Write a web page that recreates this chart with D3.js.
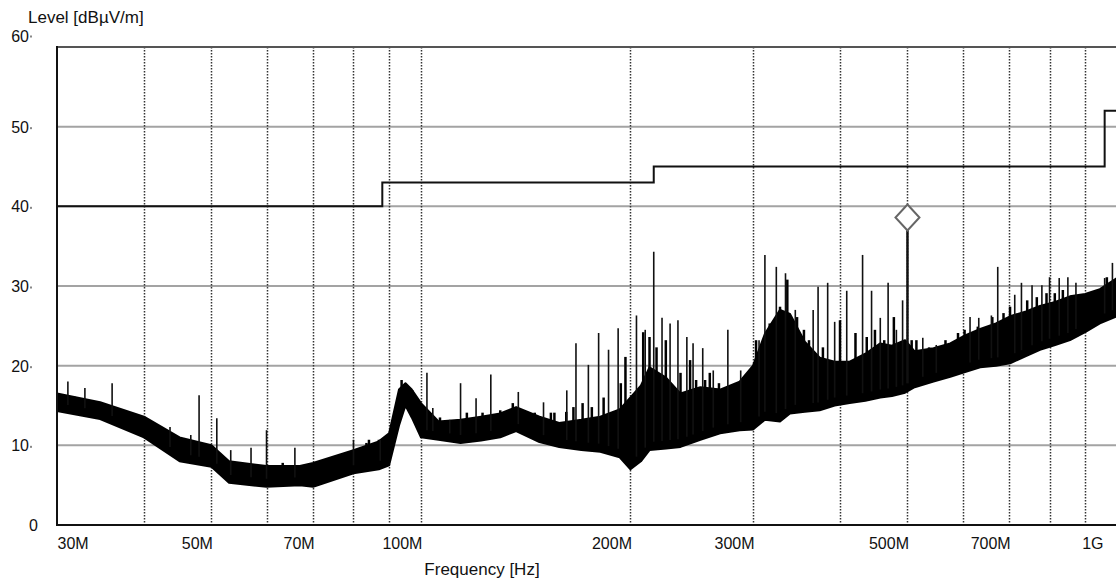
<!DOCTYPE html>
<html>
<head>
<meta charset="utf-8">
<script src="https://cdn.jsdelivr.net/npm/d3@7"></script>
<style>
  body { margin: 0; background: #fff; }
  svg text { font-family: "Liberation Sans", Arial, sans-serif; fill: #111; }
</style>
</head>
<body>
<div id="chart"></div>
<script>
// frequencies in MHz, levels in dBuV/m
const freqTicks = [30, 50, 70, 100, 200, 300, 500, 700, 1000];
const freqTickLabels = ["30M", "50M", "70M", "100M", "200M", "300M", "500M", "700M", "1G"];
const gridFreqs = [40, 50, 60, 70, 80, 90, 100, 200, 300, 400, 500, 600, 700, 800, 900];
const levelTicks = [0, 10, 20, 30, 40, 50, 60];

// noise floor band of the scan (upper / lower edge)
const bandFreq = [30, 34.6, 40, 45, 50, 53, 60, 67, 70, 80, 87, 90, 93, 95, 97, 100, 106, 114, 122, 130,
  137, 148, 158, 170, 181, 193, 200, 207, 213, 225, 236, 252, 269, 287, 300, 312, 328, 339, 356, 374,
  393, 413, 435, 457, 475, 496, 512, 545, 576, 605, 636, 670, 702, 740, 775, 815, 856, 900, 945, 1000];
const bandHigh = [16.5, 15.4, 13.6, 11.0, 10.0, 8.0, 7.4, 7.4, 7.8, 9.4, 10.5, 11.5, 17.0, 17.8, 17.0, 15.3, 13.0, 13.2, 13.6, 14.0,
  14.8, 13.6, 12.8, 13.2, 13.6, 14.5, 16.0, 17.5, 19.8, 18.5, 16.5, 17.3, 17.0, 18.0, 20.0, 24.0, 27.0, 26.5, 23.0, 21.0,
  20.5, 20.5, 21.5, 22.8, 22.5, 23.2, 21.8, 22.2, 22.8, 23.8, 24.6, 25.3, 26.2, 26.8, 27.5, 28.0, 28.7, 29.0, 29.6, 31.0];
const bandLow = [14.3, 13.3, 11.0, 8.0, 7.3, 5.3, 4.8, 5.0, 4.8, 6.5, 7.0, 7.5, 12.5, 15.0, 13.5, 11.0, 10.7, 10.3, 10.6, 11.0,
  11.8, 10.4, 9.8, 9.4, 9.2, 8.5, 7.0, 8.0, 9.4, 9.6, 9.8, 10.7, 11.5, 11.9, 12.0, 13.2, 13.0, 14.0, 14.2, 14.4,
  15.0, 15.3, 15.6, 16.0, 16.2, 16.6, 17.3, 18.0, 18.6, 19.2, 19.8, 20.0, 20.3, 21.2, 22.0, 22.6, 23.2, 24.2, 25.3, 26.2];

// narrow-band spikes
const spikeFreq = [31.1, 32.9, 36.0, 43.6, 46.7, 48.0, 50.9, 53.3, 57.0, 60, 65.9, 80, 87.4, 102, 104, 110, 114, 120, 126, 138,
  150, 162, 167, 174, 180, 186, 192, 204, 210, 216, 222, 228, 234, 241, 246, 254, 263, 276, 288, 306,
  312, 324, 334, 345, 366, 372, 384, 393, 409, 431, 444, 457, 469, 482, 492, 500, 526, 550, 615, 633,
  660, 674, 713, 729, 755, 780, 800, 826, 850, 873, 960, 985];
const spikeLevel = [18.0, 17.2, 17.8, 12.3, 11.3, 16.3, 13.4, 9.4, 9.7, 11.9, 9.7, 10.7, 10.7, 19.1, 14.7, 13.2, 17.8, 15.9, 18.9, 16.7,
  15.4, 16.9, 22.8, 20.1, 24.1, 22.0, 24.7, 26.3, 24.5, 34.3, 26.0, 25.3, 25.7, 23.6, 22.8, 22.2, 19.4, 24.5, 19.4, 23.2,
  33.9, 32.4, 31.6, 27.0, 27.0, 29.9, 30.4, 25.5, 29.4, 33.9, 29.4, 26.0, 30.4, 24.5, 28.2, 37.0, 23.5, 22.6, 26.1, 26.0,
  26.3, 32.4, 28.9, 30.4, 30.1, 30.1, 31.1, 31.0, 31.1, 30.4, 31.0, 32.9];

// smaller noise peaks sticking out of the band
const noiseFreq = [30.5, 31.8, 33.6, 34.5, 37.1, 38.4, 41.0, 42.4, 45.3, 49.2, 54.8, 57.7, 63.3, 68.3, 71.6, 74.6, 77.1, 83.5,
  84.2, 87, 93.8, 95.3, 97.2, 106.5, 116.4, 122.6, 130, 135.5, 145.7, 153.7, 155.5, 161.7, 165.6, 170.7, 176, 183,
  193.7, 196.7, 208.6, 213, 218, 224.8, 236, 243.6, 248.5, 256, 260, 268, 279, 294, 303, 317, 328, 336, 347,
  339, 355, 361, 378, 400, 421, 437, 449, 463, 478, 507, 515, 537, 567, 591, 604, 631, 662, 687, 702, 743,
  767, 792, 814, 836, 883, 913, 933, 967, 990];
const noiseLevel = [16.3, 16.1, 15.4, 15.3, 13.8, 13.2, 11.5, 10.9, 9.4, 9.7, 7.9, 7.3, 7.8, 7.3, 7.8, 8.2, 9.0, 10.3,
  10.7, 10.7, 18.2, 17.6, 16.9, 13.5, 14.1, 14.1, 14.4, 15.3, 14.1, 14.1, 14.1, 14.2, 14.8, 15.3, 14.8, 16.0,
  17.8, 21.1, 24.2, 23.6, 22.3, 23.2, 19.1, 20.7, 18.2, 18.2, 19.1, 17.8, 17.3, 18.2, 23.2, 25.3, 27.4, 30.8, 26.1,
  26.1, 24.5, 23.2, 22.3, 25.7, 24.1, 23.6, 24.5, 23.2, 26.1, 23.2, 23.2, 22.3, 23.2, 24.1, 24.5, 24.9, 26.1, 26.6, 27.4, 28.2,
  28.6, 29.1, 29.1, 29.5, 28.6, 29.1, 29.1, 31.1, 30.4];

// limit line (step after each frequency)
const limitFreq = [30, 88, 216, 960, 1000];
const limitLevel = [40, 43, 45, 52, 52];

// final measurement marker
const markerFreq = [500];
const markerLevel = [38.6];

const W = 1116, H = 581;
const svg = d3.select('#chart').append('svg').attr('width', W).attr('height', H);

const x = d3.scaleLog().domain([30, 1000]).range([57, 1117]);
const y = d3.scaleLinear().domain([0, 60]).range([525, 47]);

// horizontal grid
svg.append('g').selectAll('line')
  .data(levelTicks.filter(d => d > 0 && d < 60))
  .enter().append('line')
  .attr('x1', 57).attr('x2', W)
  .attr('y1', d => y(d)).attr('y2', d => y(d))
  .attr('stroke', '#a3a3a3').attr('stroke-width', 2);

// vertical dotted grid
svg.append('g').selectAll('line')
  .data(gridFreqs)
  .enter().append('line')
  .attr('x1', d => Math.round(x(d)) + 0.5).attr('x2', d => Math.round(x(d)) + 0.5)
  .attr('y1', y(60)).attr('y2', y(0))
  .attr('stroke', '#333').attr('stroke-width', 1.5)
  .attr('stroke-dasharray', '1.5,1.5');

// top frame line
svg.append('line')
  .attr('x1', 57).attr('x2', W).attr('y1', y(60)).attr('y2', y(60))
  .attr('stroke', '#555').attr('stroke-width', 2);

// noise band
const bandData = bandFreq.map((f, i) => ({ f: f, hi: bandHigh[i], lo: bandLow[i] }));
const area = d3.area()
  .x(d => x(d.f))
  .y0(d => y(d.lo))
  .y1(d => y(d.hi));
svg.append('path')
  .datum(bandData)
  .attr('d', area)
  .attr('fill', '#000')
  .attr('stroke', '#000')
  .attr('stroke-width', 2)
  .attr('stroke-linejoin', 'round');

// band lower edge at a given frequency, used as foot of a spike
const bis = d3.bisector(d => d.f).left;
function bandFoot(f) {
  const i = Math.max(1, Math.min(bandData.length - 1, bis(bandData, f)));
  const a = bandData[i - 1], b = bandData[i];
  const t = (Math.log(f) - Math.log(a.f)) / (Math.log(b.f) - Math.log(a.f));
  return a.lo + t * (b.lo - a.lo) + 1;
}

svg.append('g').selectAll('line')
  .data(noiseFreq.map((f, i) => ({ f: f, v: noiseLevel[i] })))
  .enter().append('line')
  .attr('x1', d => x(d.f)).attr('x2', d => x(d.f))
  .attr('y1', d => y(bandFoot(d.f))).attr('y2', d => y(d.v))
  .attr('stroke', '#000')
  .attr('stroke-width', 2.5);

svg.append('g').selectAll('line')
  .data(spikeFreq.map((f, i) => ({ f: f, v: spikeLevel[i] })))
  .enter().append('line')
  .attr('x1', d => x(d.f)).attr('x2', d => x(d.f))
  .attr('y1', d => y(bandFoot(d.f))).attr('y2', d => y(d.v))
  .attr('stroke', '#111')
  .attr('stroke-width', d => d.f === 500 ? 2.5 : 1.6);

// limit line
const limitLine = d3.line()
  .x(d => x(d[0]))
  .y(d => y(d[1]))
  .curve(d3.curveStepAfter);
svg.append('path')
  .datum(limitFreq.map((f, i) => [f, limitLevel[i]]))
  .attr('d', limitLine)
  .attr('fill', 'none')
  .attr('stroke', '#111')
  .attr('stroke-width', 2);

// marker diamond
svg.append('g').selectAll('path')
  .data(markerFreq.map((f, i) => ({ f: f, v: markerLevel[i] })))
  .enter().append('path')
  .attr('transform', d => 'translate(' + x(d.f) + ',' + y(d.v) + ')')
  .attr('d', 'M0,-13L12,0L0,13L-12,0Z')
  .attr('fill', '#fff')
  .attr('stroke', '#666')
  .attr('stroke-width', 2);

// axes lines
svg.append('line')
  .attr('x1', 57).attr('x2', 57).attr('y1', y(60) - 1).attr('y2', y(0) + 1)
  .attr('stroke', '#111').attr('stroke-width', 2);
svg.append('line')
  .attr('x1', 56).attr('x2', W).attr('y1', y(0)).attr('y2', y(0))
  .attr('stroke', '#111').attr('stroke-width', 2);

// y labels
const yAxis = svg.append('g')
  .attr('transform', 'translate(29,0)')
  .call(d3.axisLeft(y).tickValues(levelTicks).tickSize(0).tickPadding(0).tickFormat(d3.format('d')));
yAxis.select('.domain').remove();
yAxis.selectAll('text')
  .style('font-size', '16px')
  .attr('x', d => d === 0 ? 9 : 0)
  .attr('dy', d => d === 60 ? '-0.35em' : '0.35em');
yAxis.selectAll('.tick').filter(d => d > 0).append('rect')
  .attr('x', 1).attr('y', d => d === 60 ? -12 : 0).attr('width', 2).attr('height', 2)
  .attr('fill', '#888');

// x labels
const xAxis = svg.append('g')
  .attr('transform', 'translate(0,' + (y(0) + 13) + ')')
  .call(d3.axisBottom(x).tickValues(freqTicks).tickSize(0).tickPadding(0)
    .tickFormat((d, i) => freqTickLabels[i]));
xAxis.select('.domain').remove();
xAxis.selectAll('text')
  .style('font-size', '16px')
  .attr('text-anchor', (d, i) => i === 0 ? 'start' : 'end')
  .attr('dx', (d, i) => i === 0 ? 0 : (i === freqTicks.length - 1 ? -14 : 1))
  .attr('dy', '0.71em');

svg.append('text')
  .attr('x', 482).attr('y', 575)
  .attr('text-anchor', 'middle')
  .style('font-size', '17px')
  .text('Frequency [Hz]');

svg.append('text')
  .attr('x', 28).attr('y', 23)
  .style('font-size', '17px')
  .text('Level [dBµV/m]');
</script>
</body>
</html>
